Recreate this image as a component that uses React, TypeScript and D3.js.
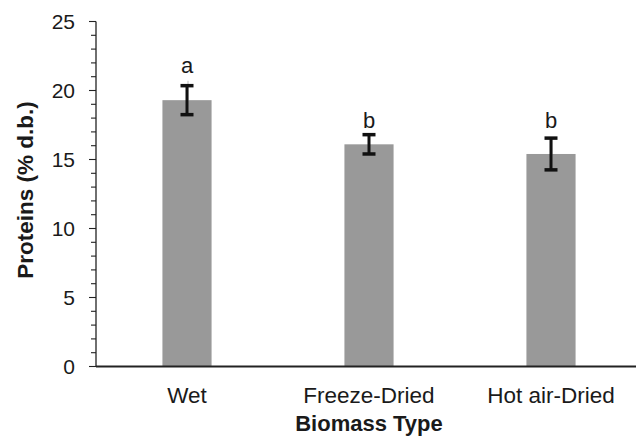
import * as d3 from 'd3';
import { useEffect, useRef } from 'react';

// data
const categories = ['Wet', 'Freeze-Dried', 'Hot air-Dried'];
const proteins = [19.3, 16.1, 15.4];
const errors = [1.05, 0.7, 1.15];
const faintTops = [20.7, null, 16.6];
const letters = ['a', 'b', 'b'];
const letterPos = [21.3, 17.3, 17.3];
const yTicks = [0, 5, 10, 15, 20, 25];

const width = 636;
const height = 438;

const App = () => {
    const ref = useRef<SVGSVGElement | null>(null);

    useEffect(() => {
        const svg = d3.select(ref.current);
        svg.selectAll('*').remove();

        const font = 'Arial, "Liberation Sans", sans-serif';
        const left = 96;
        const bottom = 366.5;

        // y scale, 0 to 25
        const yScale = d3.scaleLinear().domain([0, 25]).range([bottom, 21.5]);

        // band scale, the last band runs off the picture
        const xScale = d3.scaleBand()
            .domain(categories)
            .range([left, left + 3 * 182])
            .paddingInner(0.73)
            .paddingOuter(0.365);

        const g = svg.append('g');

        // bars
        g.selectAll('rect.bar')
            .data(categories)
            .enter().append('rect')
            .attr('class', 'bar')
            .attr('x', d => xScale(d)!)
            .attr('y', (d, i) => yScale(proteins[i]))
            .attr('width', xScale.bandwidth())
            .attr('height', (d, i) => yScale(0) - yScale(proteins[i]))
            .attr('fill', '#999999');

        const cx = (d: string) => xScale(d)! + xScale.bandwidth() / 2;

        // faint grey line that sits on top of some error bars
        g.selectAll('line.faint')
            .data(categories.filter((d, i) => faintTops[i] != null))
            .enter().append('line')
            .attr('x1', d => cx(d) + 1)
            .attr('x2', d => cx(d) + 1)
            .attr('y1', d => yScale(proteins[categories.indexOf(d)]))
            .attr('y2', d => yScale(faintTops[categories.indexOf(d)]!))
            .attr('stroke', '#c8c8c8')
            .attr('stroke-width', 1.2);

        // error bars
        const err = g.selectAll('g.err')
            .data(categories)
            .enter().append('g')
            .attr('class', 'err');

        err.append('line')
            .attr('x1', d => cx(d))
            .attr('x2', d => cx(d))
            .attr('y1', (d, i) => yScale(proteins[i] - errors[i]))
            .attr('y2', (d, i) => yScale(proteins[i] + errors[i]))
            .attr('stroke', '#111')
            .attr('stroke-width', 3);

        [1, -1].forEach(s => {
            err.append('line')
                .attr('x1', d => cx(d) - 6.5)
                .attr('x2', d => cx(d) + 6.5)
                .attr('y1', (d, i) => yScale(proteins[i] + s * errors[i]))
                .attr('y2', (d, i) => yScale(proteins[i] + s * errors[i]))
                .attr('stroke', '#111')
                .attr('stroke-width', 3.5);
        });

        // significance letters
        g.selectAll('text.letter')
            .data(categories)
            .enter().append('text')
            .attr('x', d => cx(d))
            .attr('y', (d, i) => yScale(letterPos[i]))
            .attr('text-anchor', 'middle')
            .style('font-family', font)
            .style('font-size', '22px')
            .attr('fill', '#1a1a1a')
            .text((d, i) => letters[i]);

        // y axis with major and minor ticks
        g.append('line')
            .attr('x1', left).attr('x2', left)
            .attr('y1', yScale(25)).attr('y2', bottom)
            .attr('stroke', '#222').attr('stroke-width', 1.3);

        g.selectAll('line.minor')
            .data(d3.range(0, 26))
            .enter().append('line')
            .attr('x1', d => d % 5 === 0 ? left - 7 : left - 5)
            .attr('x2', left)
            .attr('y1', d => yScale(d))
            .attr('y2', d => yScale(d))
            .attr('stroke', '#222')
            .attr('stroke-width', 1.1);

        g.selectAll('text.ytick')
            .data(yTicks)
            .enter().append('text')
            .attr('x', 75)
            .attr('y', d => yScale(d))
            .attr('dy', '0.35em')
            .attr('text-anchor', 'end')
            .style('font-family', font)
            .style('font-size', '21px')
            .attr('fill', '#1a1a1a')
            .text(d => d);

        // x axis line
        g.append('line')
            .attr('x1', left).attr('x2', width)
            .attr('y1', bottom).attr('y2', bottom)
            .attr('stroke', '#222').attr('stroke-width', 2);

        g.selectAll('text.xtick')
            .data(categories)
            .enter().append('text')
            .attr('x', d => cx(d))
            .attr('y', 402.5)
            .attr('text-anchor', 'middle')
            .style('font-family', font)
            .style('font-size', '22.5px')
            .attr('fill', '#1a1a1a')
            .text(d => d);

        // axis titles
        g.append('text')
            .attr('x', 369)
            .attr('y', 431)
            .attr('text-anchor', 'middle')
            .style('font-family', font)
            .style('font-size', '22px')
            .style('font-weight', 'bold')
            .attr('fill', '#1a1a1a')
            .text('Biomass Type');

        g.append('text')
            .attr('transform', 'translate(33,190) rotate(-90)')
            .attr('text-anchor', 'middle')
            .style('font-family', font)
            .style('font-size', '22.5px')
            .style('font-weight', 'bold')
            .attr('fill', '#1a1a1a')
            .text('Proteins (% d.b.)');
    }, []);

    return (
        <svg ref={ref} width={width} height={height}
            style={{ position: 'absolute', left: 0, top: 0, background: 'white' }} />
    );
};

export default App;
